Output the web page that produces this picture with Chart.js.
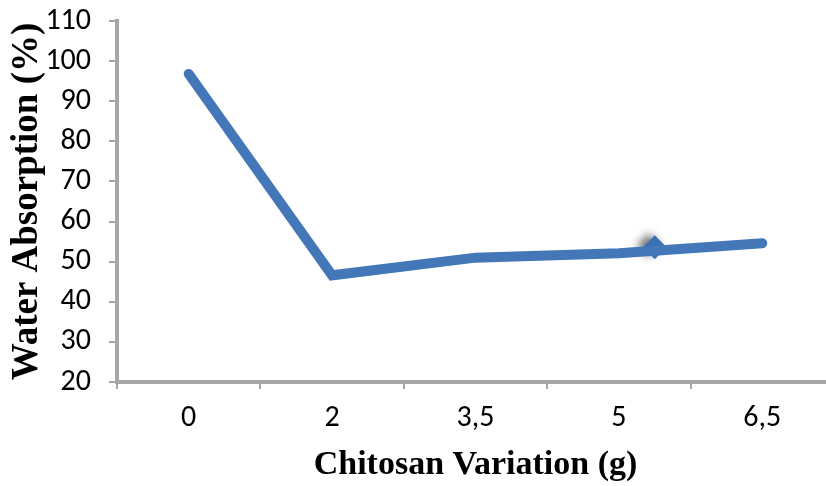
<!DOCTYPE html>
<html>
<head>
<meta charset="utf-8">
<script src="https://cdn.jsdelivr.net/npm/chart.js@4"></script>
<style>
  html, body { margin: 0; padding: 0; background: #fff; overflow: hidden; }
  #wrap { width: 826px; height: 486px; overflow: hidden; }
</style>
</head>
<body>
<div id="wrap"><canvas id="chart" width="846" height="486"></canvas></div>
<script>
// Chart data
const categories = ['0', '2', '3,5', '5', '6,5'];
const absorption = [96.8, 46.6, 51.0, 52.1, 54.6];
// single marker drawn on the line between 5 and 6,5
const markerX = [3.25];
const markerY = [53.6];

const blue = '#4477b8';
const axisGrey = '#a6a6a6';
const tickFont = { family: 'Carlito, Calibri, Lato, sans-serif', size: 30 };
const titleFont = { family: '"Liberation Serif", "Times New Roman", serif', weight: 'bold' };

// shadow under the diamond marker
const markerShadow = {
    id: 'markerShadow',
    beforeDatasetDraw(chart, args) {
        if (args.index !== 1) return;
        const ctx = chart.ctx;
        ctx.save();
        ctx.shadowColor = 'rgba(0,0,0,0.55)';
        ctx.shadowBlur = 8;
        ctx.shadowOffsetX = -6;
        ctx.shadowOffsetY = -2;
    },
    afterDatasetDraw(chart, args) {
        if (args.index !== 1) return;
        chart.ctx.restore();
    }
};

new Chart(document.getElementById('chart').getContext('2d'), {
    type: 'line',
    data: {
        labels: categories,
        datasets: [{
            data: absorption,
            borderColor: blue,
            borderWidth: 10,
            borderCapStyle: 'round',
            borderJoinStyle: 'miter',
            pointRadius: 0,
            tension: 0,
            fill: false
        }, {
            data: markerX.map((x, i) => ({ x: x, y: markerY[i] })),
            xAxisID: 'x2',
            showLine: false,
            pointStyle: 'rectRot',
            pointRadius: 12,
            pointBackgroundColor: '#3a71b5',
            pointBorderWidth: 0
        }]
    },
    options: {
        responsive: false,
        animation: false,
        layout: { padding: { top: 21, right: 9, left: 0, bottom: 0 } },
        plugins: { legend: { display: false }, tooltip: { enabled: false } },
        scales: {
            x: {
                type: 'category',
                offset: true,
                afterFit: s => { s.height = 104; s.paddingLeft = 0; s.paddingRight = 0; },
                grid: { offset: true, drawOnChartArea: false, drawTicks: true, tickLength: 7, color: axisGrey, lineWidth: 2 },
                border: { color: axisGrey, width: 4 },
                ticks: { color: '#000', font: tickFont, padding: 11, maxRotation: 0 },
                title: { display: true, text: 'Chitosan Variation (g)', color: '#000', font: { ...titleFont, size: 34 }, padding: { top: 0, bottom: 0 } }
            },
            x2: {
                type: 'linear',
                display: false,
                min: -0.5,
                max: 4.5
            },
            y: {
                min: 20,
                max: 110,
                afterFit: s => { s.width = 117; s.paddingTop = 0; s.paddingBottom = 0; },
                grid: { drawOnChartArea: false, drawTicks: true, tickLength: 8, color: axisGrey, lineWidth: 2 },
                border: { color: axisGrey, width: 4 },
                ticks: { stepSize: 10, color: '#000', font: tickFont, padding: 18 },
                title: { display: true, text: 'Water Absorption (%)', color: '#000', font: { ...titleFont, size: 37 }, padding: { top: 5, bottom: 0 } }
            }
        }
    },
    plugins: [markerShadow]
});
</script>
</body>
</html>
